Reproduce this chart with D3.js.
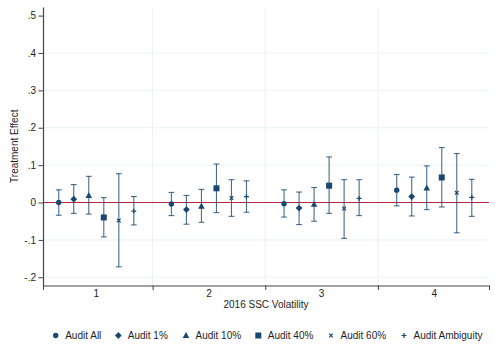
<!DOCTYPE html>
<html>
<head>
<meta charset="utf-8">
<script src="https://cdn.jsdelivr.net/npm/d3@7"></script>
<style>
  html, body { margin: 0; padding: 0; background: #fff; }
  svg { display: block; font-family: "Liberation Sans", Arial, sans-serif; }
</style>
</head>
<body>
<svg id="chart" width="495" height="345"></svg>
<script>
// Groups on the x axis (2016 SSC volatility quartiles)
const groups = [1, 2, 3, 4];
const groupLabels = ["1", "2", "3", "4"];
const yTicks = [-0.2, -0.1, 0, 0.1, 0.2, 0.3, 0.4, 0.5];
const yTickLabels = ["-.2", "-.1", "0", ".1", ".2", ".3", ".4", ".5"];

const seriesNames = ["Audit All", "Audit 1%", "Audit 10%", "Audit 40%", "Audit 60%", "Audit Ambiguity"];
const seriesShapes = ["circle", "diamond", "triangle", "square", "cross", "plus"];

// Point estimates and 95% confidence bounds, one value per group
const auditAll     = [0.000, -0.004, -0.003, 0.033];
const auditAllLo   = [-0.034, -0.035, -0.039, -0.009];
const auditAllHi   = [0.034, 0.027, 0.034, 0.075];

const audit1       = [0.009, -0.019, -0.015, 0.016];
const audit1Lo     = [-0.029, -0.058, -0.059, -0.036];
const audit1Hi     = [0.048, 0.019, 0.028, 0.068];

const audit10      = [0.019, -0.010, -0.005, 0.039];
const audit10Lo    = [-0.031, -0.053, -0.050, -0.019];
const audit10Hi    = [0.070, 0.035, 0.040, 0.098];

const audit40      = [-0.040, 0.038, 0.045, 0.067];
const audit40Lo    = [-0.092, -0.027, -0.029, -0.012];
const audit40Hi    = [0.013, 0.103, 0.122, 0.147];

const audit60      = [-0.048, 0.012, -0.016, 0.026];
const audit60Lo    = [-0.172, -0.037, -0.096, -0.081];
const audit60Hi    = [0.077, 0.061, 0.061, 0.131];

const auditAmb     = [-0.023, 0.016, 0.011, 0.014];
const auditAmbLo   = [-0.060, -0.026, -0.035, -0.037];
const auditAmbHi   = [0.016, 0.058, 0.061, 0.062];

const estimates = [auditAll, audit1, audit10, audit40, audit60, auditAmb];
const lowers    = [auditAllLo, audit1Lo, audit10Lo, audit40Lo, audit60Lo, auditAmbLo];
const uppers    = [auditAllHi, audit1Hi, audit10Hi, audit40Hi, audit60Hi, auditAmbHi];

const navy = "#1a476f";
const gridColor = "#eaf2f3";
const zeroColor = "#b8233f";
const textColor = "#1e1e1e";

const svg = d3.select("#chart");

const plot = { left: 43, right: 489, top: 7, bottom: 285.5 };

const x = d3.scaleLinear().domain([0.527, 4.486]).range([plot.left, plot.right]);
const y = d3.scaleLinear().domain([-0.222, 0.523]).range([plot.bottom, plot.top]);

// position of each series within its group
const step = 0.1333;
const xPos = (g, k) => x(g + (k - 2.5) * step);

// gridlines
const gridG = svg.append("g");
gridG.selectAll("line.h")
  .data(yTicks.filter(t => t < 0.5))
  .join("line")
  .attr("x1", plot.left).attr("x2", plot.right)
  .attr("y1", d => y(d)).attr("y2", d => y(d))
  .attr("stroke", gridColor).attr("stroke-width", 1);
gridG.selectAll("line.v")
  .data([1.5, 2.5, 3.5])
  .join("line")
  .attr("x1", d => x(d)).attr("x2", d => x(d))
  .attr("y1", plot.top).attr("y2", plot.bottom)
  .attr("stroke", gridColor).attr("stroke-width", 1);

// zero reference line
svg.append("line")
  .attr("x1", plot.left).attr("x2", plot.right)
  .attr("y1", y(0)).attr("y2", y(0))
  .attr("stroke", zeroColor).attr("stroke-width", 1.1);

// y axis
const yAxis = d3.axisLeft(y)
  .tickValues(yTicks)
  .tickFormat((d, i) => yTickLabels[i])
  .tickSize(4.5)
  .tickPadding(2.5)
  .tickSizeOuter(0);
const yG = svg.append("g").attr("transform", `translate(${plot.left},0)`).call(yAxis);
yG.select(".domain").attr("stroke", "#444").attr("stroke-width", 1.2);
yG.selectAll(".tick line").attr("stroke", "#444");
yG.selectAll(".tick text").attr("fill", textColor).style("font-size", "10px")
  .style("font-family", "Liberation Sans, Arial, sans-serif");

// x axis: tick marks at group boundaries, labels at group centres
const xAxis = d3.axisBottom(x)
  .tickValues([0.527, 1.5, 2.5, 3.5, 4.486])
  .tickFormat("")
  .tickSize(4.5)
  .tickSizeOuter(0);
const xG = svg.append("g").attr("transform", `translate(0,${plot.bottom})`).call(xAxis);
xG.select(".domain").attr("stroke", "#444").attr("stroke-width", 1.2);
xG.selectAll(".tick line").attr("stroke", "#444");

svg.append("g").selectAll("text")
  .data(groups)
  .join("text")
  .attr("x", d => x(d))
  .attr("y", 297)
  .attr("text-anchor", "middle")
  .attr("fill", textColor)
  .style("font-size", "10px")
  .text((d, i) => groupLabels[i]);

// axis titles
svg.append("text")
  .attr("x", (plot.left + plot.right) / 2)
  .attr("y", 308)
  .attr("text-anchor", "middle")
  .attr("fill", textColor)
  .style("font-size", "10px")
  .text("2016 SSC Volatility");

svg.append("text")
  .attr("transform", `translate(17.5,${(plot.top + plot.bottom) / 2}) rotate(-90)`)
  .attr("text-anchor", "middle")
  .attr("fill", textColor)
  .style("font-size", "10px")
  .text("Treatment Effect");

// marker drawing
function drawMarker(g, shape, cx, cy) {
  if (shape === "circle") {
    g.append("circle").attr("cx", cx).attr("cy", cy).attr("r", 2.7).attr("fill", navy);
  } else if (shape === "diamond") {
    const s = 3.4;
    g.append("path").attr("d", `M${cx},${cy - s}L${cx + s},${cy}L${cx},${cy + s}L${cx - s},${cy}Z`).attr("fill", navy);
  } else if (shape === "triangle") {
    const s = 3.3;
    g.append("path").attr("d", `M${cx},${cy - s * 1.05}L${cx + s},${cy + s * 0.75}L${cx - s},${cy + s * 0.75}Z`).attr("fill", navy);
  } else if (shape === "square") {
    const s = 3;
    g.append("rect").attr("x", cx - s).attr("y", cy - s).attr("width", 2 * s).attr("height", 2 * s).attr("fill", navy);
  } else if (shape === "cross") {
    const s = 1.8;
    g.append("path").attr("d", `M${cx - s},${cy - s}L${cx + s},${cy + s}M${cx - s},${cy + s}L${cx + s},${cy - s}`)
      .attr("stroke", navy).attr("stroke-width", 1.2).attr("fill", "none");
  } else if (shape === "plus") {
    const s = 2.5;
    g.append("path").attr("d", `M${cx - s},${cy}L${cx + s},${cy}M${cx},${cy - s}L${cx},${cy + s}`)
      .attr("stroke", navy).attr("stroke-width", 1.2).attr("fill", "none");
  }
}

// confidence intervals with caps, then point estimates
const capHalf = 2.9;
estimates.forEach((est, k) => {
  const sg = svg.append("g");
  groups.forEach((gVal, i) => {
    const cx = xPos(gVal, k);
    const lo = y(lowers[k][i]);
    const hi = y(uppers[k][i]);
    sg.append("line").attr("x1", cx).attr("x2", cx).attr("y1", hi).attr("y2", lo)
      .attr("stroke", navy).attr("stroke-width", 1.1).attr("stroke-opacity", 0.8);
    sg.append("line").attr("x1", cx - capHalf).attr("x2", cx + capHalf).attr("y1", hi).attr("y2", hi)
      .attr("stroke", navy).attr("stroke-width", 1.1).attr("stroke-opacity", 0.8);
    sg.append("line").attr("x1", cx - capHalf).attr("x2", cx + capHalf).attr("y1", lo).attr("y2", lo)
      .attr("stroke", navy).attr("stroke-width", 1.1).attr("stroke-opacity", 0.8);
  });
  groups.forEach((gVal, i) => {
    drawMarker(sg, seriesShapes[k], xPos(gVal, k), y(est[i]));
  });
});

// legend
const legendMarkerX = [55.7, 118.3, 186, 258.3, 331, 404];
const legendY = 335.5;
const lg = svg.append("g");
seriesNames.forEach((name, k) => {
  drawMarker(lg, seriesShapes[k], legendMarkerX[k], legendY);
  lg.append("text")
    .attr("x", legendMarkerX[k] + 9.5)
    .attr("y", legendY + 3.6)
    .attr("fill", textColor)
    .style("font-size", "10px")
    .text(name);
});
</script>
</body>
</html>
